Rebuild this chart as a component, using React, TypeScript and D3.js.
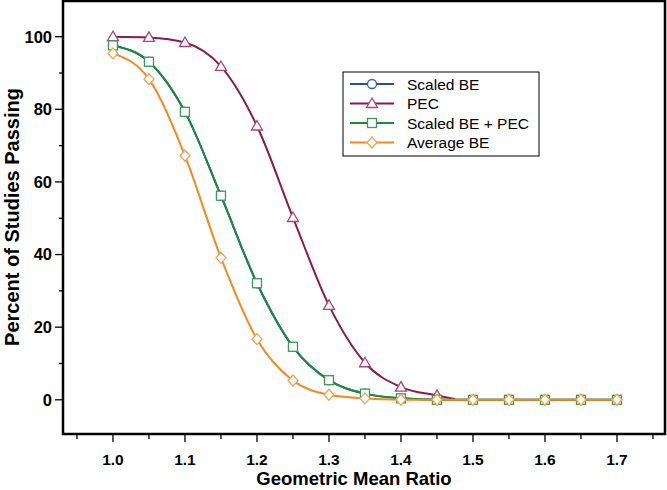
import React from "react";
import * as d3 from "d3";

const gmr = [1.0, 1.05, 1.1, 1.15, 1.2, 1.25, 1.3, 1.35, 1.4, 1.45, 1.5, 1.55, 1.6, 1.65, 1.7];
const scaledBE = [97.6, 93.1, 79.3, 56.2, 32.1, 14.6, 5.4, 1.7, 0.4, 0, 0, 0, 0, 0, 0];
const pecX = [1.0, 1.05, 1.1, 1.15, 1.2, 1.25, 1.3, 1.35, 1.4, 1.45];
const pec = [100, 99.8, 98.4, 91.8, 75.4, 50.2, 26.0, 10.2, 3.5, 1.2];
const pecTailX = [1.475];
const pecTail = [0.2];
const scaledBEPlusPEC = [97.6, 93.1, 79.3, 56.2, 32.1, 14.6, 5.4, 1.7, 0.4, 0, 0, 0, 0, 0, 0];
const averageBE = [95.4, 88.3, 67.2, 39.1, 16.7, 5.3, 1.4, 0.4, 0, 0, 0, 0, 0, 0, 0];

const xMajorTicks = [1.0, 1.1, 1.2, 1.3, 1.4, 1.5, 1.6, 1.7];
const xMinorTicks = [0.95, 1.05, 1.15, 1.25, 1.35, 1.45, 1.55, 1.65, 1.75];
const yMajorTicks = [0, 20, 40, 60, 80, 100];
const yMinorTicks = [10, 30, 50, 70, 90];
const legendLabels = ["Scaled BE", "PEC", "Scaled BE + PEC", "Average BE"];

const W = 667;
const H = 490;
const FONT = "'Liberation Sans', Arial, Helvetica, sans-serif";

const frame = { left: 63, right: 665, top: 1, bottom: 434 };

type Pt = [number, number];

function Marker({ kind, x, y, color }: { kind: string; x: number; y: number; color: string }) {
  const sw = 1.3;
  if (kind === "circle") return <circle cx={x} cy={y} r={4.5} fill="#fff" stroke={color} strokeWidth={sw} />;
  if (kind === "triangle")
    return (
      <path d={`M${x},${y - 5.5}L${x + 5.5},${y + 4}L${x - 5.5},${y + 4}Z`} fill="#fff" stroke={color} strokeWidth={sw} />
    );
  if (kind === "square")
    return <rect x={x - 4.5} y={y - 4.5} width={9} height={9} fill="#fff" stroke={color} strokeWidth={sw} />;
  return (
    <path d={`M${x},${y - 5.5}L${x + 5},${y}L${x},${y + 5.5}L${x - 5},${y}Z`} fill="#fff" stroke={color} strokeWidth={sw} />
  );
}

export default function App() {
  const x = d3.scaleLinear().domain([0.9306, 1.7667]).range([frame.left, frame.right]);
  const y = d3.scaleLinear().domain([-9.42, 109.83]).range([frame.bottom, frame.top]);
  const line = d3
    .line<Pt>()
    .x((d) => x(d[0]))
    .y((d) => y(d[1]))
    .curve(d3.curveMonotoneX);

  const series = [
    {
      name: legendLabels[0],
      kind: "circle",
      line: "#2A4D9C",
      mark: "#3A5CAA",
      pts: gmr.map((g, i) => [g, scaledBE[i]] as Pt),
      linePts: gmr.map((g, i) => [g, scaledBE[i]] as Pt),
    },
    {
      name: legendLabels[1],
      kind: "triangle",
      line: "#8A1C4A",
      mark: "#A8477B",
      pts: pecX.map((g, i) => [g, pec[i]] as Pt),
      linePts: [...pecX.map((g, i) => [g, pec[i]] as Pt), ...pecTailX.map((g, i) => [g, pecTail[i]] as Pt)],
    },
    {
      name: legendLabels[2],
      kind: "square",
      line: "#1C8C3C",
      mark: "#3B9A5A",
      pts: gmr.map((g, i) => [g, scaledBEPlusPEC[i]] as Pt),
      linePts: gmr.map((g, i) => [g, scaledBEPlusPEC[i]] as Pt),
    },
    {
      name: legendLabels[3],
      kind: "diamond",
      line: "#F5881F",
      mark: "#F7A04E",
      pts: gmr.map((g, i) => [g, averageBE[i]] as Pt),
      linePts: gmr.map((g, i) => [g, averageBE[i]] as Pt),
    },
  ];

  const legend = { x: 343, y: 72, w: 196, h: 84, rows: [84, 103.5, 123, 142.5] };

  return (
    <svg
      width={W}
      height={H}
      style={{ position: "absolute", left: 0, top: 0, background: "#fff" }}
      fontFamily={FONT}
    >
      <rect x={0} y={0} width={W} height={H} fill="#fff" />
      {/* series */}
      {series.map((s) => (
        <g key={s.name}>
          <path d={line(s.linePts) || ""} fill="none" stroke={s.line} strokeWidth={2} />
          {s.pts.map((p, i) => (
            <Marker key={i} kind={s.kind} x={x(p[0])} y={y(p[1])} color={s.mark} />
          ))}
        </g>
      ))}
      {/* frame */}
      <rect
        x={frame.left}
        y={frame.top}
        width={frame.right - frame.left}
        height={frame.bottom - frame.top}
        fill="none"
        stroke="#000"
        strokeWidth={2.5}
      />
      {/* x axis */}
      {xMajorTicks.map((t) => (
        <g key={"xM" + t}>
          <line x1={x(t)} x2={x(t)} y1={frame.bottom + 1} y2={frame.bottom + 8} stroke="#000" strokeWidth={1.3} />
          <text x={x(t)} y={frame.bottom + 31} textAnchor="middle" fontSize={15.5} fontWeight="bold">
            {t.toFixed(1)}
          </text>
        </g>
      ))}
      {xMinorTicks.map((t) => (
        <line key={"xm" + t} x1={x(t)} x2={x(t)} y1={frame.bottom + 1} y2={frame.bottom + 5} stroke="#000" strokeWidth={1.3} />
      ))}
      <text x={354} y={485} textAnchor="middle" fontSize={18.5} fontWeight="bold">
        Geometric Mean Ratio
      </text>
      {/* y axis */}
      {yMajorTicks.map((t) => (
        <g key={"yM" + t}>
          <line x1={frame.left - 8} x2={frame.left - 1} y1={y(t)} y2={y(t)} stroke="#000" strokeWidth={1.3} />
          <text x={frame.left - 11} y={y(t)} dy="0.36em" textAnchor="end" fontSize={16.5} fontWeight="bold">
            {t}
          </text>
        </g>
      ))}
      {yMinorTicks.map((t) => (
        <line key={"ym" + t} x1={frame.left - 4} x2={frame.left - 1} y1={y(t)} y2={y(t)} stroke="#000" strokeWidth={1.3} />
      ))}
      <text
        transform={`translate(19,${217}) rotate(-90)`}
        textAnchor="middle"
        fontSize={20}
        fontWeight="bold"
      >
        Percent of Studies Passing
      </text>
      {/* legend */}
      <rect x={legend.x} y={legend.y} width={legend.w} height={legend.h} fill="#fff" stroke="#000" strokeWidth={1} />
      {series.map((s, i) => (
        <g key={"lg" + s.name}>
          <line x1={350} x2={394} y1={legend.rows[i]} y2={legend.rows[i]} stroke={s.line} strokeWidth={2} />
          <Marker kind={s.kind} x={372} y={legend.rows[i]} color={s.mark} />
          <text x={407} y={legend.rows[i]} dy="0.36em" fontSize={15.5}>
            {s.name}
          </text>
        </g>
      ))}
    </svg>
  );
}
